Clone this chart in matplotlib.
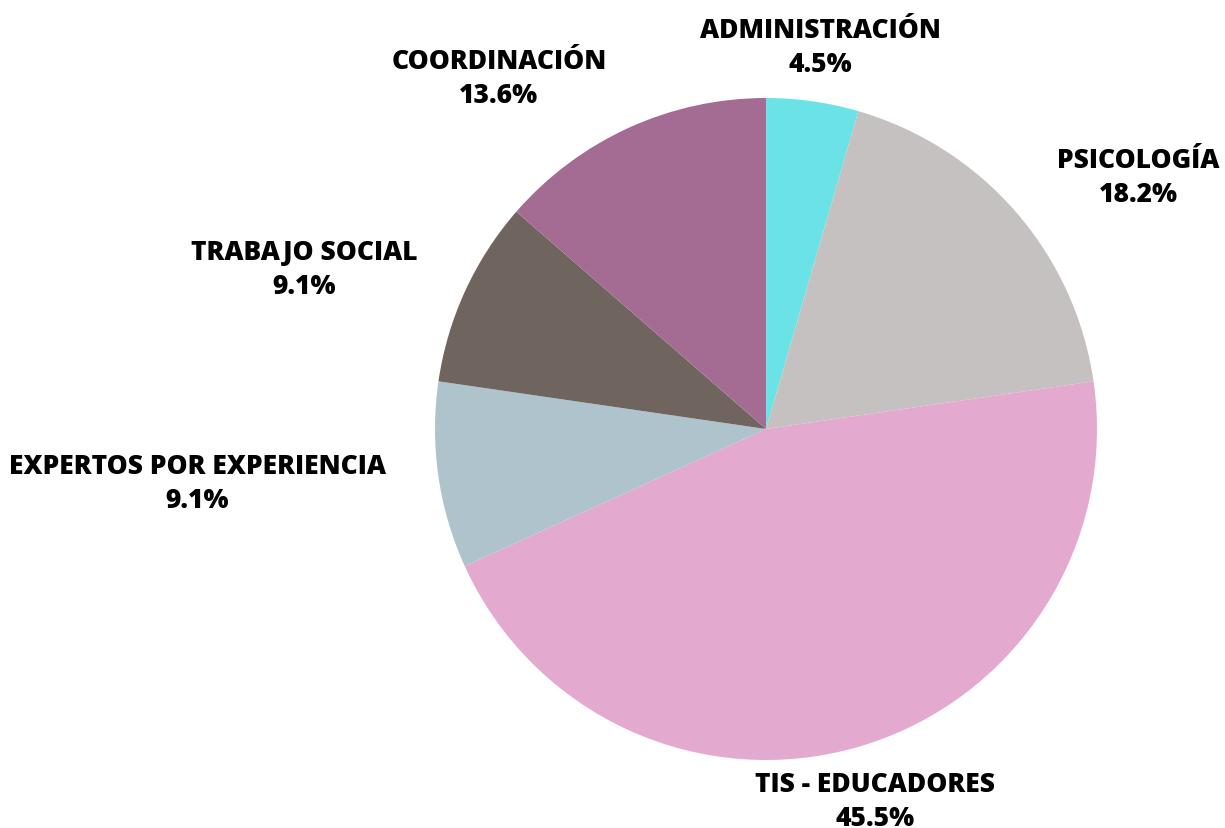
import matplotlib.pyplot as plt

categories = ["ADMINISTRACIÓN", "PSICOLOGÍA", "TIS - EDUCADORES",
              "EXPERTOS POR EXPERIENCIA", "TRABAJO SOCIAL", "COORDINACIÓN"]
values = [4.5, 18.2, 45.5, 9.1, 9.1, 13.6]
colors = ["#6BE3E6", "#C6C1C1", "#E3A9CF", "#AFC3CD", "#70645F", "#A46B93"]

# label block centres, in units of the pie radius
label_pos = [(0.163, 1.154), (1.124, 0.761), (0.329, -1.124),
             (-1.719, -0.163), (-1.396, 0.483), (-0.807, 1.060)]

fig = plt.figure(figsize=(12.25, 8.29), dpi=100)
ax = fig.add_axes([0, 0, 1, 1])

ax.pie(values, colors=colors, startangle=90, counterclock=False, radius=1,
       wedgeprops=dict(linewidth=0))

for name, val, (x, y) in zip(categories, values, label_pos):
    ax.text(x, y, f"{name}\n{val:.1f}%", ha="center", va="center",
            fontsize=19, fontweight=800, family="Open Sans",
            linespacing=1.42, color="black")

r_px = 331
ax.set_xlim(-766 / r_px, (1225 - 766) / r_px)
ax.set_ylim(-(829 - 430) / r_px, 430 / r_px)
ax.set_aspect("auto")
ax.axis("off")

fig.savefig("out.png", dpi=100, facecolor="white")
